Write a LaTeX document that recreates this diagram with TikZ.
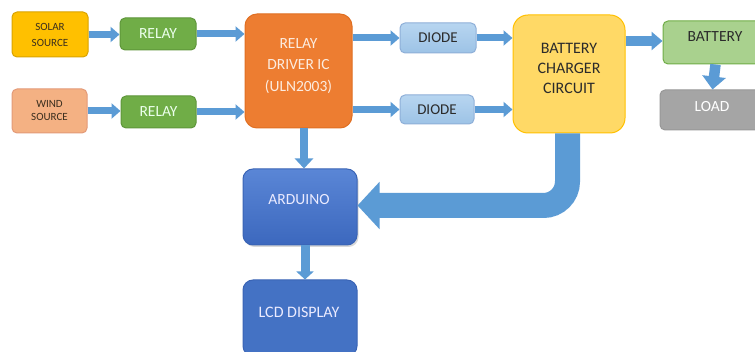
\documentclass[tikz,border=0pt]{standalone}
\usepackage{fontspec}
\setmainfont{Carlito}
\usetikzlibrary{arrows.meta,shadows}
\definecolor{arr}{HTML}{5B9BD5}
\definecolor{solarF}{HTML}{FFC000}
\definecolor{solarD}{HTML}{D9A300}
\definecolor{windF}{HTML}{F4B183}
\definecolor{windD}{HTML}{E39A78}
\definecolor{relF}{HTML}{70AD47}
\definecolor{relD}{HTML}{5E963A}
\definecolor{icF}{HTML}{ED7D31}
\definecolor{icD}{HTML}{E06F22}
\definecolor{dioT}{HTML}{B7D5F0}
\definecolor{dioB}{HTML}{9DC3E6}
\definecolor{dioD}{HTML}{8EAFD8}
\definecolor{chgF}{HTML}{FFD966}
\definecolor{chgD}{HTML}{FFC000}
\definecolor{batF}{HTML}{A9D18E}
\definecolor{batD}{HTML}{70AD47}
\definecolor{loadF}{HTML}{A5A5A5}
\definecolor{loadD}{HTML}{989898}
\definecolor{ardT}{HTML}{5A86D6}
\definecolor{ardB}{HTML}{3C68BE}
\definecolor{ardD}{HTML}{3A64B5}
\definecolor{lcdF}{HTML}{4472C4}
\definecolor{darktxt}{HTML}{2B2B2B}
\definecolor{srctxt}{HTML}{3A2E1E}
\tikzset{
  box/.style={rounded corners=5pt, line width=1pt, align=center, inner sep=0pt},
  blk/.style={draw=arr, line width=7pt, -{Triangle[width=15pt,length=9pt]}},
  txt/.style={align=center, inner sep=0pt},
}
\begin{document}
\begin{tikzpicture}[x=1pt,y=-1pt]
\clip (0,0) rectangle (755,352);
\fill[white] (0,0) rectangle (755,352);

% boxes
\node[box, fill=solarF, draw=solarD, minimum width=76pt, minimum height=45pt,
      text=srctxt, font=\fontsize{11}{16}\selectfont] (solar) at (50,34.5) {SOLAR\\SOURCE};
\node[box, fill=windF, draw=windD, minimum width=75pt, minimum height=44pt,
      text=srctxt, font=\fontsize{11}{13}\selectfont] (wind) at (49.5,111) {WIND\\SOURCE};
\node[box, fill=relF, draw=relD, minimum width=76pt, minimum height=32pt,
      text=white!92!green, font=\fontsize{15.5}{17}\selectfont] (relay1) at (158,34) {RELAY};
\node[box, fill=relF, draw=relD, minimum width=75pt, minimum height=32pt,
      text=white!92!green, font=\fontsize{15.5}{17}\selectfont] (relay2) at (158.5,112) {RELAY};
\node[box, rounded corners=12pt, fill=icF, draw=icD, minimum width=107pt, minimum height=114pt] (ic) at (298.5,71) {};
\node[txt, text=white!85!icF, font=\fontsize{15.5}{21.5}\selectfont] (ict) at (298.5,66) {RELAY\\DRIVER IC\\(ULN2003)};
\node[box, top color=dioT, bottom color=dioB, draw=dioD, minimum width=76pt, minimum height=30pt,
      text=darktxt, font=\fontsize{15}{17}\selectfont] (diode1) at (438,38) {DIODE};
\node[box, top color=dioT, bottom color=dioB, draw=dioD, minimum width=74pt, minimum height=29pt,
      text=darktxt, font=\fontsize{15}{17}\selectfont] (diode2) at (437,109.5) {DIODE};
\node[box, rounded corners=15pt, fill=chgF, draw=chgD, minimum width=112pt, minimum height=118pt] (chg) at (569,74) {};
\node[txt, text=darktxt, font=\fontsize{16}{20}\selectfont] (chgt) at (569,68) {BATTERY\\CHARGER\\CIRCUIT};
\node[box, fill=batF, draw=batD, minimum width=105pt, minimum height=43pt] (bat) at (715.5,42.5) {};
\node[txt, text=darktxt, font=\fontsize{15.5}{17}\selectfont] (batt) at (715,37) {BATTERY};
\node[box, fill=loadF, draw=loadD, minimum width=105pt, minimum height=40pt] (load) at (712.5,110) {};
\node[txt, text=white, font=\fontsize{15.5}{17}\selectfont] (loadt) at (712,107) {LOAD};
\node[box, rounded corners=10pt, top color=ardT, bottom color=ardB, draw=ardD, minimum width=114pt, minimum height=76pt,
      drop shadow={shadow xshift=1.5pt, shadow yshift=-2pt, opacity=0.3}] (ard) at (300,207) {};
\node[txt, text=white!92!blue, font=\fontsize{15.5}{17}\selectfont] (ardt) at (299,199.5) {ARDUINO};
\node[box, rounded corners=10pt, fill=lcdF, draw=ardD, minimum width=114pt, minimum height=76pt] (lcd) at (300,318) {};
\node[txt, text=white!92!blue, font=\fontsize{16}{17}\selectfont] (lcdt) at (299,312) {LCD DISPLAY};

% arrows
\draw[blk] (solar.east) -- (relay1.west |- solar.east);
\draw[blk] (wind.east) -- (relay2.west |- wind.east);
\draw[blk] (relay1.east) -- (ic.west |- relay1.east);
\draw[blk] (relay2.east) -- (ic.west |- relay2.east);
\draw[blk] (ic.east |- diode1.west) -- (diode1.west);
\draw[blk] (ic.east |- diode2.west) -- (diode2.west);
\draw[blk] (diode1.east) -- (chg.west |- diode1.east);
\draw[blk] (diode2.east) -- (chg.west |- diode2.east);
\draw[draw=arr, line width=9.5pt, -{Triangle[width=18pt,length=11pt]}] (chg.east |- 0,41) -- (bat.west |- 0,41);
\draw[draw=arr, line width=10.5pt, -{Triangle[width=23pt,length=13pt]}] (bat.south) -- (load.north);
\coordinate (icb) at ([xshift=5.5pt]ic.south);
\coordinate (ardb) at ([xshift=5pt]ard.south);
\draw[draw=arr, line width=8.5pt, -{Triangle[width=18pt,length=10pt]}] (icb) -- (icb |- ard.north);
\draw[draw=arr, line width=9pt, -{Triangle[width=17pt,length=8pt]}] (ardb) -- (ardb |- lcd.north);
\draw[draw=arr, line width=25pt, rounded corners=24pt, -{Triangle[width=46pt,length=22pt]}]
  ([xshift=-1.5pt]chg.south) |- ([yshift=1.5pt]ard.east);
\end{tikzpicture}
\end{document}
